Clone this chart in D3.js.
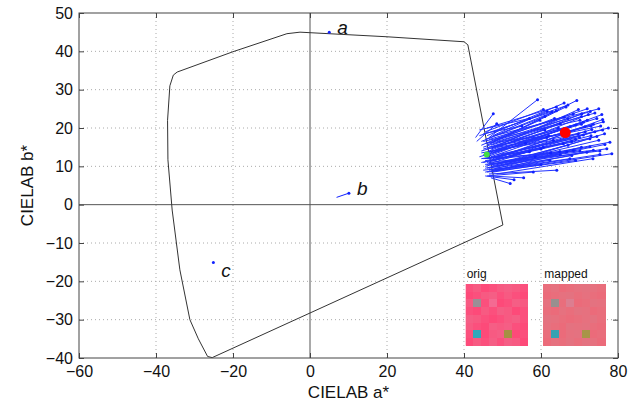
<!DOCTYPE html>
<html>
<head>
<meta charset="utf-8">
<script src="https://cdn.jsdelivr.net/npm/d3@7"></script>
<style>
  body { margin: 0; background: #fff; }
  svg { display: block; font-family: "Liberation Sans", Arial, Helvetica, sans-serif; }
</style>
</head>
<body>
<div id="chart"></div>
<script>
/* ----------  DATA  ---------- */
const xTicks = [-60, -40, -20, 0, 20, 40, 60, 80]
const yTicks = [-40, -30, -20, -10, 0, 10, 20, 30, 40, 50]

// gamut outline (a*, b*)
const gamutA = [-35.5, -34.5, -20, -6, -2.6, 20, 40, 41, 50.1, -25.4, -26.6, -29, -31.2, -33.8, -35.8, -36.9, -37.0, -36.4, -35.5]
const gamutB = [33.8, 34.6, 39.9, 44.6, 45.0, 43.8, 42.5, 41.7, -5.3, -39.9, -39.6, -35, -30, -17, -1.4, 11.7, 22.0, 31.0, 33.8]

// mapped colour shifts: start -> end
const startA = [46.5, 47.0, 46.0, 45.5, 47.5, 48.0, 46.5, 47.5, 48.5, 46.0, 47.0, 49.0, 45.0, 47.5, 48.5, 46.0, 47.0, 49.5, 46.5, 48.0,
  47.5, 45.5, 46.5, 48.0, 45.0, 47.0, 46.0, 45.5, 49.0, 46.5, 45.5, 47.0, 45.5, 44.5, 47.0, 46.0, 48.0, 45.0, 46.5, 44.0,
  47.5, 45.5, 44.5, 46.0, 43.0, 43.3, 44.0, 46.0, 47.0, 46.5, 48.5, 49.5, 45.0, 46.0, 47.5, 48.0, 45.5, 44.5, 47.0, 49.0,
  46.0, 48.5, 44.0, 45.0, 47.5, 49.0, 48.0, 46.5, 45.5, 46.5, 47.0, 45.0, 46.0, 47.5, 48.5, 45.5, 46.5, 44.5,
  45.0, 46.0, 47.5, 48.0, 46.0, 44.5, 45.5, 47.0, 48.0, 46.5, 49.5, 49.0, 48.5, 45.0, 46.0, 44.5, 47.0, 48.0, 46.5, 45.5]
const startB = [17.5, 16.0, 15.5, 19.0, 18.0, 15.0, 14.0, 13.5, 16.5, 12.5, 11.5, 14.0, 13.0, 12.0, 12.5, 11.0, 10.0, 11.0, 9.5, 10.0,
  8.5, 10.5, 11.0, 9.0, 12.0, 8.5, 9.5, 11.5, 9.0, 8.0, 7.5, 9.0, 8.5, 15.5, 14.5, 13.5, 11.5, 16.5, 17.0, 18.0,
  10.5, 12.0, 13.5, 10.5, 17.5, 16.5, 19.5, 20.0, 7.0, 7.5, 13.0, 15.5, 14.5, 16.0, 15.0, 17.0, 9.5, 11.0, 12.5, 12.0,
  8.5, 8.0, 12.5, 18.5, 19.0, 10.0, 14.0, 12.0, 13.5, 13.0, 13.8, 11.0, 12.0, 11.5, 10.5, 10.0, 9.0, 14.0,
  15.0, 14.5, 16.5, 18.0, 18.0, 16.5, 17.0, 10.5, 9.5, 10.5, 13.0, 15.0, 14.5, 9.0, 7.5, 12.0, 15.5, 12.5, 15.0, 16.0]
const endA = [59.1, 69.3, 66.5, 60.6, 61.6, 69.7, 70.6, 72.3, 74.0, 75.8, 76.0, 76.2, 73.6, 71.4, 73.2, 74.0, 72.7, 77.9, 76.6, 77.1,
  78.4, 75.3, 73.6, 71.9, 70.1, 68.4, 66.7, 64.9, 75.3, 64.1, 53.0, 67.5, 62.3, 59.7, 65.0, 67.5, 69.7, 70.1, 68.4, 62.8,
  72.7, 65.8, 63.2, 60.6, 47.6, 48.5, 57.0, 64.0, 52.0, 55.5, 70.0, 71.0, 61.0, 63.5, 66.0, 72.0, 58.5, 57.0, 61.5, 74.5,
  69.0, 73.5, 56.0, 55.0, 67.0, 76.5, 71.5, 68.0, 70.5, 72.0, 74.5, 69.0, 71.0, 73.0, 75.0, 67.0, 70.5, 64.5,
  67.0, 69.0, 72.8, 75.0, 66.0, 61.0, 64.0, 65.0, 68.0, 62.5, 77.5, 75.5, 73.0, 60.0, 58.0, 60.0, 70.5, 76.0, 65.5, 62.0]
const endB = [27.4, 27.2, 25.5, 24.8, 24.4, 24.8, 23.7, 23.5, 23.9, 23.5, 22.2, 21.6, 21.0, 20.3, 19.6, 19.0, 17.2, 16.3, 15.7, 14.6,
  13.3, 14.0, 14.2, 13.7, 14.0, 14.2, 13.9, 13.9, 13.1, 9.0, 6.5, 12.0, 11.6, 22.0, 21.1, 20.3, 18.5, 22.0, 23.7, 24.2,
  15.1, 15.9, 16.8, 15.0, 23.7, 21.1, 22.5, 25.5, 5.5, 7.0, 17.5, 21.5, 19.5, 22.5, 22.8, 25.0, 12.5, 13.8, 17.5, 17.8,
  11.5, 12.0, 16.0, 20.5, 26.0, 18.5, 19.0, 16.5, 21.0, 22.0, 22.5, 17.0, 18.2, 18.0, 16.8, 15.5, 15.0, 20.0,
  22.5, 20.8, 24.3, 25.0, 26.5, 23.0, 24.5, 13.0, 12.8, 13.5, 20.0, 20.5, 20.5, 10.5, 8.5, 14.5, 23.0, 19.5, 18.5, 18.0]

// labelled test colours a, b, c
const markNames = ['a', 'b', 'c']
const markStartA = [5.0, 6.9, -25.1]
const markStartB = [45.0, 1.9, -15.1]
const markEndA = [5.0, 10.1, -25.1]
const markEndB = [45.0, 3.0, -15.1]

const redPoint = [66.3, 18.8]
const greenPoint = [45.9, 13.1]

// inset image swatches (8 x 8 cells, shade index per cell)
const shadeRows = ['01201310', '20130102', '1x0y2031', '02103120', '31020130', '10231302', '0z213w20', '21030312']
const origPalette = ['#fb507d', '#f75a82', '#fd4a79', '#f55e85']
const mappedPalette = ['#e96e7c', '#e6717f', '#eb6b7a', '#e47280']
const origSpecial = { x: '#9a8f96', y: '#f46a92', z: '#2fa8bb', w: '#a69042' }
const mappedSpecial = { x: '#97908f', y: '#dc7e90', z: '#38a2b2', w: '#a89548' }

/* ----------  SHELL  ---------- */
const W = 644
const H = 404
const margin = { top: 13, right: 26, bottom: 46, left: 79 }

const svg = d3.select('#chart').append('svg')
  .attr('width', W)
  .attr('height', H)

const x = d3.scaleLinear().domain([-60, 80]).range([margin.left, W - margin.right])
const y = d3.scaleLinear().domain([-40, 50]).range([H - margin.bottom, margin.top])

/* ----------  GRID  ---------- */
const grid = svg.append('g')
grid.selectAll('.gx')
  .data(xTicks.filter(t => t !== 0 && t > -60 && t < 80))
  .join('line')
  .attr('x1', d => x(d)).attr('x2', d => x(d))
  .attr('y1', y(-40)).attr('y2', y(50))
  .attr('stroke', '#aaa')
  .attr('stroke-dasharray', '1,3')
grid.selectAll('.gy')
  .data(yTicks.filter(t => t !== 0 && t > -40 && t < 50))
  .join('line')
  .attr('y1', d => y(d)).attr('y2', d => y(d))
  .attr('x1', x(-60)).attr('x2', x(80))
  .attr('stroke', '#aaa')
  .attr('stroke-dasharray', '1,3')

// zero lines
svg.append('line')
  .attr('x1', x(0)).attr('x2', x(0)).attr('y1', y(-40)).attr('y2', y(50))
  .attr('stroke', '#555')
svg.append('line')
  .attr('x1', x(-60)).attr('x2', x(80)).attr('y1', y(0)).attr('y2', y(0))
  .attr('stroke', '#555')

/* ----------  GAMUT OUTLINE  ---------- */
const outline = d3.line()
  .x(d => x(d[0]))
  .y(d => y(d[1]))
svg.append('path')
  .datum(gamutA.map((a, i) => [a, gamutB[i]]))
  .attr('d', outline)
  .attr('fill', 'none')
  .attr('stroke', '#333')
  .attr('stroke-width', 1)

/* ----------  SHIFT LINES  ---------- */
const shifts = startA.map((a, i) => ({ a0: a, b0: startB[i], a1: endA[i], b1: endB[i] }))
svg.append('g').selectAll('line')
  .data(shifts)
  .join('line')
  .attr('x1', d => x(d.a0)).attr('y1', d => y(d.b0))
  .attr('x2', d => x(d.a1)).attr('y2', d => y(d.b1))
  .attr('stroke', '#2233ff')
  .attr('stroke-width', 1)
svg.append('g').selectAll('circle')
  .data(shifts)
  .join('circle')
  .attr('cx', d => x(d.a1)).attr('cy', d => y(d.b1))
  .attr('r', 1.5)
  .attr('fill', '#1122ff')

svg.append('circle')
  .attr('cx', x(greenPoint[0])).attr('cy', y(greenPoint[1]))
  .attr('r', 3)
  .attr('fill', '#44dd44')
svg.append('circle')
  .attr('cx', x(redPoint[0])).attr('cy', y(redPoint[1]))
  .attr('r', 5.5)
  .attr('fill', '#ff0000')

/* ----------  a, b, c  ---------- */
markNames.forEach((name, i) => {
  svg.append('line')
    .attr('x1', x(markStartA[i])).attr('y1', y(markStartB[i]))
    .attr('x2', x(markEndA[i])).attr('y2', y(markEndB[i]))
    .attr('stroke', '#1122ff')
  svg.append('circle')
    .attr('cx', x(markEndA[i])).attr('cy', y(markEndB[i]))
    .attr('r', 1.5)
    .attr('fill', '#1122ff')
  svg.append('text')
    .attr('x', x(markEndA[i]) + 8)
    .attr('y', y(markEndB[i]) + (i === 2 ? 14 : 2))
    .style('font-size', '19px')
    .style('font-style', 'italic')
    .attr('fill', '#111')
    .text(name)
})

/* ----------  INSETS  ---------- */
function drawInset (left, title, palette, special) {
  const cell = 7.7
  const top = 284
  const g = svg.append('g')
  g.append('rect')
    .attr('x', left - 1).attr('y', top - 1)
    .attr('width', cell * 8 + 2).attr('height', cell * 8 + 2)
    .attr('fill', '#fff')
  g.append('rect')
    .attr('x', left).attr('y', top)
    .attr('width', cell * 8).attr('height', cell * 8)
    .attr('fill', palette[0])
  shadeRows.forEach((row, r) => {
    row.split('').forEach((k, c) => {
      g.append('rect')
        .attr('x', left + c * cell).attr('y', top + r * cell)
        .attr('width', cell + 0.6).attr('height', cell + 0.6)
        .attr('fill', special[k] || palette[+k])
        .attr('shape-rendering', 'crispEdges')
    })
  })
  g.append('text')
    .attr('x', left + 1).attr('y', top - 6)
    .style('font-size', '12px')
    .attr('fill', '#111')
    .text(title)
}
drawInset(465.7, 'orig', origPalette, origSpecial)
drawInset(543.3, 'mapped', mappedPalette, mappedSpecial)

/* ----------  AXES & FRAME  ---------- */
const bottom = svg.append('g')
  .attr('transform', `translate(0, ${y(-40)})`)
  .call(d3.axisBottom(x).tickValues(xTicks).tickSize(-5).tickPadding(8))
const left = svg.append('g')
  .attr('transform', `translate(${x(-60)}, 0)`)
  .call(d3.axisLeft(y).tickValues(yTicks).tickSize(-5).tickPadding(6))
svg.append('g')
  .attr('transform', `translate(0, ${y(50)})`)
  .call(d3.axisTop(x).tickValues(xTicks).tickSize(-5).tickFormat(''))
svg.append('g')
  .attr('transform', `translate(${x(80)}, 0)`)
  .call(d3.axisRight(y).tickValues(yTicks).tickSize(-5).tickFormat(''))

svg.selectAll('.domain').remove()
svg.selectAll('.tick line').attr('stroke', '#444')
;[bottom, left].forEach(a => a.selectAll('text')
  .style('font-size', '16px')
  .style('font-family', '"Liberation Sans", Arial, sans-serif')
  .attr('fill', '#111'))

svg.append('rect')
  .attr('x', x(-60)).attr('y', y(50))
  .attr('width', x(80) - x(-60)).attr('height', y(-40) - y(50))
  .attr('fill', 'none')
  .attr('stroke', '#444')

svg.append('text')
  .attr('x', (x(-60) + x(80)) / 2)
  .attr('y', 398)
  .style('text-anchor', 'middle')
  .style('font-size', '17px')
  .attr('fill', '#111')
  .text('CIELAB a*')

svg.append('text')
  .attr('transform', `translate(33, ${(y(-40) + y(50)) / 2}) rotate(-90)`)
  .style('text-anchor', 'middle')
  .style('font-size', '17px')
  .attr('fill', '#111')
  .text('CIELAB b*')
</script>
</body>
</html>
